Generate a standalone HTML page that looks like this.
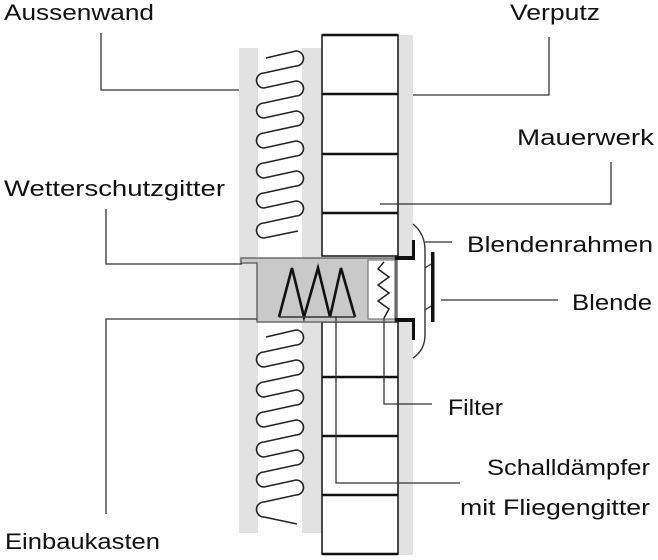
<!DOCTYPE html>
<html><head><meta charset="utf-8"><style>
html,body{margin:0;padding:0;background:#fff;}
svg{display:block;}
text{font-family:"Liberation Sans","DejaVu Sans",sans-serif;font-size:22px;fill:#111;}
</style></head><body>
<svg width="658" height="560" viewBox="0 0 658 560" xmlns="http://www.w3.org/2000/svg">
<!-- plaster / gray layers -->
<rect x="239" y="48" width="19" height="485" fill="#e2e2e2"/>
<rect x="302" y="48" width="20" height="485" fill="#e2e2e2"/>
<rect x="398" y="35" width="15" height="520" fill="#e2e2e2"/>
<!-- masonry -->
<g fill="#fff" stroke="#111" stroke-width="1.5">
<rect x="322" y="35" width="76" height="221"/>
<rect x="322" y="322" width="76" height="232"/>
</g>
<g stroke="#111" stroke-width="2.5">
<line x1="322" y1="35" x2="398" y2="35"/>
<line x1="322" y1="94" x2="398" y2="94"/>
<line x1="322" y1="154" x2="398" y2="154"/>
<line x1="322" y1="213" x2="398" y2="213"/>
<line x1="322" y1="377" x2="398" y2="377"/>
<line x1="322" y1="436" x2="398" y2="436"/>
<line x1="322" y1="495" x2="398" y2="495"/>
<line x1="322" y1="554" x2="398" y2="554"/>
</g>
<!-- coils -->
<path fill="none" stroke="#222" stroke-width="1.6" d="M266,58 L296,51 A7.5,7.5 0 0 1 296,66 L264,73 A7.5,7.5 0 0 0 264,88 L296,81 A7.5,7.5 0 0 1 296,96 L264,103 A7.5,7.5 0 0 0 264,118 L296,111 A7.5,7.5 0 0 1 296,126 L264,133 A7.5,7.5 0 0 0 264,148 L296,141 A7.5,7.5 0 0 1 296,156 L264,163 A7.5,7.5 0 0 0 264,178 L296,171 A7.5,7.5 0 0 1 296,186 L264,193 A7.5,7.5 0 0 0 264,208 L296,201 A7.5,7.5 0 0 1 296,216 L264,223 A7.5,7.5 0 0 0 264,238 L298,231"/>
<path fill="none" stroke="#222" stroke-width="1.6" d="M266,337 L296,330 A7.5,7.5 0 0 1 296,345 L264,352 A7.5,7.5 0 0 0 264,367 L296,360 A7.5,7.5 0 0 1 296,375 L264,382 A7.5,7.5 0 0 0 264,397 L296,390 A7.5,7.5 0 0 1 296,405 L264,412 A7.5,7.5 0 0 0 264,427 L296,420 A7.5,7.5 0 0 1 296,435 L264,442 A7.5,7.5 0 0 0 264,457 L296,450 A7.5,7.5 0 0 1 296,465 L264,472 A7.5,7.5 0 0 0 264,487 L296,480 A7.5,7.5 0 0 1 296,495 L264,502 A7.5,7.5 0 0 0 264,517 L297,524"/>
<!-- opening / box -->
<rect x="397" y="256" width="16" height="66" fill="#fff"/>
<path d="M241,258 L397,258 L397,322 L257,322 L257,263 L241,263 Z" fill="#c9c9c9" stroke="#555" stroke-width="1.3"/>
<rect x="368" y="260" width="28" height="59" fill="#fff" stroke="#777" stroke-width="1.2"/>
<line x1="395" y1="256" x2="395" y2="322" stroke="#555" stroke-width="1"/>
<polyline fill="none" stroke="#111" stroke-width="2.6" stroke-linejoin="miter" points="279,317 292,268 304,317 318,268 330,317 341,268 355,317"/>
<line x1="279" y1="317" x2="355" y2="317" stroke="#333" stroke-width="1.5"/>
<polyline fill="none" stroke="#222" stroke-width="1.5" points="384,262 378,269 389,277 378,285 389,293 378,301 389,309 384,318"/>
<!-- flange -->
<path d="M395,256 L412,256 L412,240 L415,240 L415,260 L395,260 Z" fill="#111"/>
<path d="M395,318 L415,318 L415,340 L412,340 L412,322 L395,322 Z" fill="#111"/>
<path d="M413,224 Q425,234 425,250 L425,335 Q425,350 413,358" fill="none" stroke="#333" stroke-width="1.4"/>
<rect x="431" y="252" width="3.5" height="70" fill="#111"/>
<line x1="425" y1="268" x2="431" y2="264" stroke="#333" stroke-width="1.3"/>
<line x1="425" y1="310" x2="431" y2="306" stroke="#333" stroke-width="1.3"/>
<!-- leaders -->
<g fill="none" stroke="#333" stroke-width="1.3">
<polyline points="101,33 101,90 239,90"/>
<polyline points="106,209 106,264 242,264"/>
<polyline points="106,514 106,319 257,319"/>
<polyline points="549,37 549,95 413,95"/>
<polyline points="611,162 611,204 380,204"/>
<line x1="425" y1="242" x2="452" y2="242"/>
<line x1="441" y1="300" x2="558" y2="300"/>
<polyline points="384,318 384,404 432,404"/>
<polyline points="336,316 336,483 460,483"/>
</g>
<!-- labels -->
<text x="4" y="20" textLength="150" lengthAdjust="spacingAndGlyphs">Aussenwand</text>
<text x="4" y="196" textLength="221" lengthAdjust="spacingAndGlyphs">Wetterschutzgitter</text>
<text x="5" y="549" textLength="155" lengthAdjust="spacingAndGlyphs">Einbaukasten</text>
<text x="510" y="20" textLength="90" lengthAdjust="spacingAndGlyphs">Verputz</text>
<text x="517" y="145" textLength="137" lengthAdjust="spacingAndGlyphs">Mauerwerk</text>
<text x="467" y="252" textLength="186" lengthAdjust="spacingAndGlyphs">Blendenrahmen</text>
<text x="572" y="310" textLength="80" lengthAdjust="spacingAndGlyphs">Blende</text>
<text x="448" y="415" textLength="55" lengthAdjust="spacingAndGlyphs">Filter</text>
<text x="487" y="475" textLength="163" lengthAdjust="spacingAndGlyphs">Schalldämpfer</text>
<text x="460" y="515" textLength="190" lengthAdjust="spacingAndGlyphs">mit Fliegengitter</text>
</svg>
</body></html>
